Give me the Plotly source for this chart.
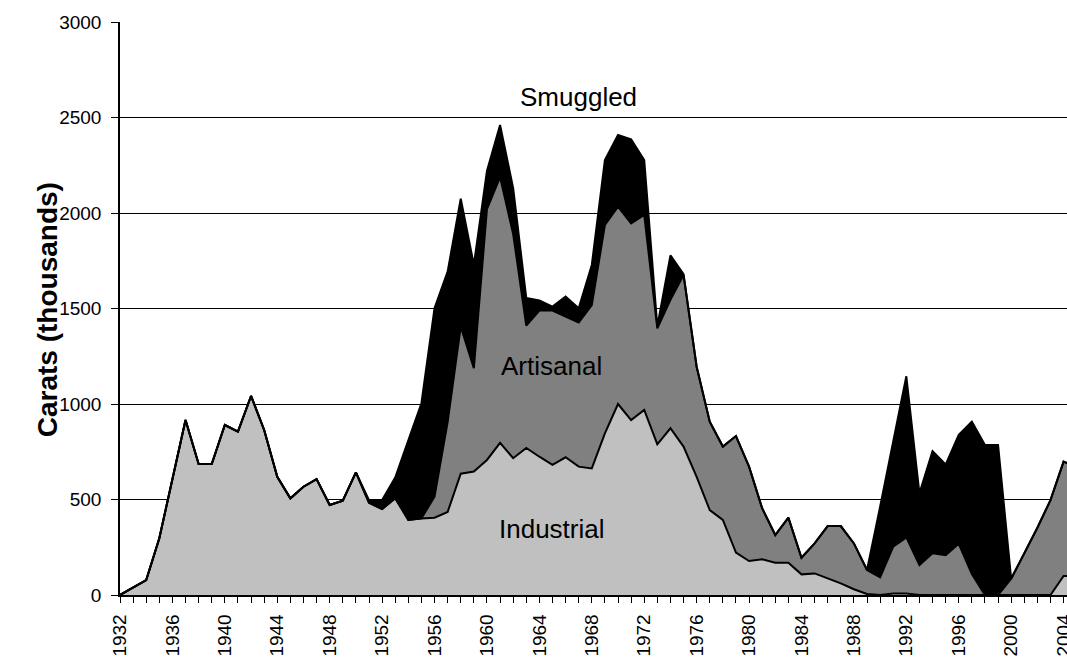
import plotly.graph_objects as go

years = list(range(1932, 2006))

industrial = [0, 40, 78, 297, 611, 916, 686, 686, 890, 855,
              1042, 864, 619, 506, 567, 607, 471, 494, 642, 483,
              450, 507, 393, 401, 405, 435, 635, 646, 707, 797,
              716, 770, 724, 681, 721, 672, 663, 846, 1000, 916,
              969, 789, 873, 777, 619, 445, 393, 222, 178, 187,
              169, 169, 108, 113, 87, 61, 30, 5, 0, 8,
              8, 0, 0, 0, 0, 0, 0, 0, 0, 0,
              0, 0, 100, 100]

artisanal = [0, 0, 0, 0, 0, 0, 0, 0, 0, 0,
             0, 0, 0, 0, 0, 0, 0, 0, 0, 0,
             0, 0, 0, 0, 110, 470, 770, 541, 1313, 1391,
             1174, 640, 765, 808, 736, 754, 855, 1091, 1033, 1030,
             1021, 607, 672, 898, 576, 462, 384, 610, 494, 267,
             145, 236, 87, 157, 274, 300, 240, 126, 92, 245,
             294, 157, 218, 209, 268, 110, 0, 0, 85, 218,
             352, 497, 598, 570]

smuggled = [0, 0, 0, 0, 0, 0, 0, 0, 0, 0,
            0, 0, 0, 0, 0, 0, 0, 0, 0, 14,
            47, 108, 417, 603, 986, 788, 670, 541, 200, 273,
            240, 145, 53, 21, 105, 75, 210, 340, 375, 439,
            287, 10, 233, 5, 0, 0, 0, 0, 0, 0,
            0, 0, 0, 0, 0, 0, 0, 0, 370, 550,
            843, 375, 535, 474, 570, 797, 785, 785, 0, 0,
            0, 0, 0, 0]

tick_years = list(range(1932, 2005, 4))
tick_labels = [str(y) for y in tick_years]
y_ticks = [0, 500, 1000, 1500, 2000, 2500, 3000]

FONT = "Arial, Liberation Sans, sans-serif"

series = [("Industrial", industrial, "#C0C0C0"),
          ("Artisanal", artisanal, "#808080"),
          ("Smuggled", smuggled, "#000000")]

fig = go.Figure()
for name, vals, col in series:
    fig.add_trace(go.Scatter(
        x=years, y=vals, name=name, mode="lines",
        stackgroup="one", fillcolor=col,
        line=dict(color="black", width=2),
    ))

fig.update_layout(
    width=1067, height=658,
    margin=dict(l=120, r=0, t=22, b=63),
    paper_bgcolor="white", plot_bgcolor="white",
    showlegend=False,
    font=dict(family=FONT, color="black"),
)

fig.update_xaxes(
    range=[1932, 2004.26],
    tickmode="array", tickvals=tick_years, ticktext=tick_labels,
    tickangle=-90, tickfont=dict(size=19, family=FONT, color="black"),
    ticks="outside", ticklen=6, tickcolor="black", tickwidth=1,
    minor=dict(tickmode="linear", tick0=1932, dtick=1, ticks="outside",
               ticklen=6, tickcolor="black", tickwidth=1, showgrid=False),
    showline=True, linecolor="black", linewidth=1.5,
    showgrid=False, zeroline=False, automargin=False,
    ticklabelstandoff=4, ticklabeloverflow="allow",
)

fig.update_yaxes(
    range=[0, 3000],
    tickmode="array", tickvals=y_ticks, ticktext=[str(v) for v in y_ticks],
    tickfont=dict(size=19, family=FONT, color="black"),
    ticks="outside", ticklen=7, tickcolor="black", tickwidth=1,
    showline=True, linecolor="black", linewidth=1.5,
    showgrid=True, gridcolor="black", gridwidth=1,
    zeroline=False, automargin=False,
    ticklabelstandoff=6,
)

# Y-axis title
fig.add_annotation(
    text="<b>Carats (thousands)</b>", textangle=-90,
    xref="paper", yref="paper", x=0, y=0.497,
    xanchor="center", yanchor="middle",
    xshift=-73, showarrow=False,
    font=dict(size=28, family=FONT, color="black"),
)

# Series labels
for txt, xv, yv in [("Smuggled", 1966.97, 2607),
                    ("Artisanal", 1964.94, 1199),
                    ("Industrial", 1964.94, 346)]:
    fig.add_annotation(text=txt, x=xv, y=yv, xref="x", yref="y",
                       showarrow=False,
                       font=dict(size=26, family=FONT, color="black"))

fig.write_html(
    "out.html",
    config={"displayModeBar": False},
    post_script="document.body.style.margin='0';document.body.style.overflow='hidden';",
)
